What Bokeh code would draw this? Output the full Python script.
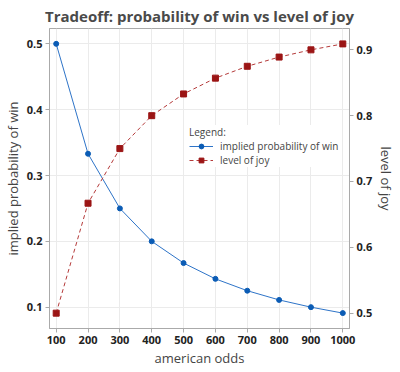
import math
from bokeh.plotting import figure
from bokeh.models import Range1d, LinearAxis, Legend, LegendItem, FixedTicker
from bokeh.embed import file_html
from bokeh.resources import INLINE

odds = [100, 200, 300, 400, 500, 600, 700, 800, 900, 1000]
prob = [0.5, 0.333, 0.25, 0.2, 0.167, 0.143, 0.125, 0.111, 0.1, 0.091]
joy = [0.5, 0.667, 0.75, 0.8, 0.833, 0.857, 0.875, 0.889, 0.9, 0.909]
x_ticks = [100, 200, 300, 400, 500, 600, 700, 800, 900, 1000]
prob_ticks = [0.1, 0.2, 0.3, 0.4, 0.5]
joy_ticks = [0.5, 0.6, 0.7, 0.8, 0.9]

FONT = "Open Sans"
BLUE = "#0b5cb5"
BLUE_L = "#2e74c8"
RED = "#9b1515"
RED_L = "#b53a3a"

X0, X1 = 79, 1021
J0, J1 = 0.4767, 0.9324

p = figure(frame_width=300, frame_height=300, output_backend="svg", toolbar_location=None,
           x_range=Range1d(X0, X1), y_range=Range1d(0.0676, 0.5233),
           title="Tradeoff: probability of win vs level of joy",
           min_border_left=0, min_border_right=0, min_border_top=0, min_border_bottom=0)
p.extra_y_ranges = {"joy": Range1d(J0, J1)}

p.title.text_font = FONT
p.title.text_font_size = "15px"
p.title.text_font_style = "bold"
p.title.text_color = "#4a4a4a"
p.title.align = "center"
p.title.standoff = 6
p.title.offset = 0

p.outline_line_color = "#aaaaaa"
p.background_fill_color = "white"
p.border_fill_color = "white"

l1 = p.line(odds, prob, color=BLUE_L, line_width=1)
c1 = p.scatter(odds, prob, marker="circle", size=5, color=BLUE)
l2 = p.line(odds, joy, y_range_name="joy", color=RED_L, line_width=1, line_dash="4 3")
c2 = p.scatter(odds, joy, y_range_name="joy", marker="square", size=6, color=RED)

ax_r = LinearAxis(y_range_name="joy", axis_label="level of joy")
p.add_layout(ax_r, "right")

p.xaxis.ticker = FixedTicker(ticks=x_ticks)
p.yaxis[0].ticker = FixedTicker(ticks=prob_ticks)
ax_r.ticker = FixedTicker(ticks=joy_ticks)
p.xaxis.axis_label = "american odds"
p.yaxis[0].axis_label = "implied probability of win"

for ax in [p.xaxis[0], p.yaxis[0], ax_r]:
    ax.axis_label_text_font = FONT
    ax.axis_label_text_font_size = "13px"
    ax.axis_label_text_font_style = "normal"
    ax.axis_label_text_color = "#444444"
    ax.axis_label_standoff = 2
    ax.major_label_text_font = FONT
    ax.major_label_text_font_size = "11px"
    ax.major_label_text_font_style = "bold"
    ax.major_label_text_color = "#222222"
    ax.major_label_standoff = 3
    ax.axis_line_color = "#aaaaaa"
    ax.major_tick_line_color = "#aaaaaa"
    ax.major_tick_in = 0
    ax.major_tick_out = 4
    ax.minor_tick_line_color = None

p.xgrid.grid_line_color = "#ebebeb"
p.ygrid.grid_line_color = "#ebebeb"

legend = Legend(items=[LegendItem(label="implied probability of win", renderers=[l1, c1]),
                       LegendItem(label="level of joy", renderers=[l2, c2])],
                location=(140, 161), title="Legend:")
legend.title_text_font = FONT
legend.title_text_font_size = "10px"
legend.title_text_font_style = "normal"
legend.title_text_color = "#444444"
legend.title_standoff = 0
legend.label_text_font = FONT
legend.label_text_font_size = "10px"
legend.label_text_color = "#444444"
legend.label_height = 12
legend.glyph_height = 12
legend.glyph_width = 24
legend.label_standoff = 7
legend.spacing = 0
legend.padding = 3
legend.margin = 0
legend.border_line_color = None
legend.background_fill_color = "white"
legend.background_fill_alpha = 1
p.add_layout(legend, "center")

open("out.html", "w").write(file_html(p, INLINE))
